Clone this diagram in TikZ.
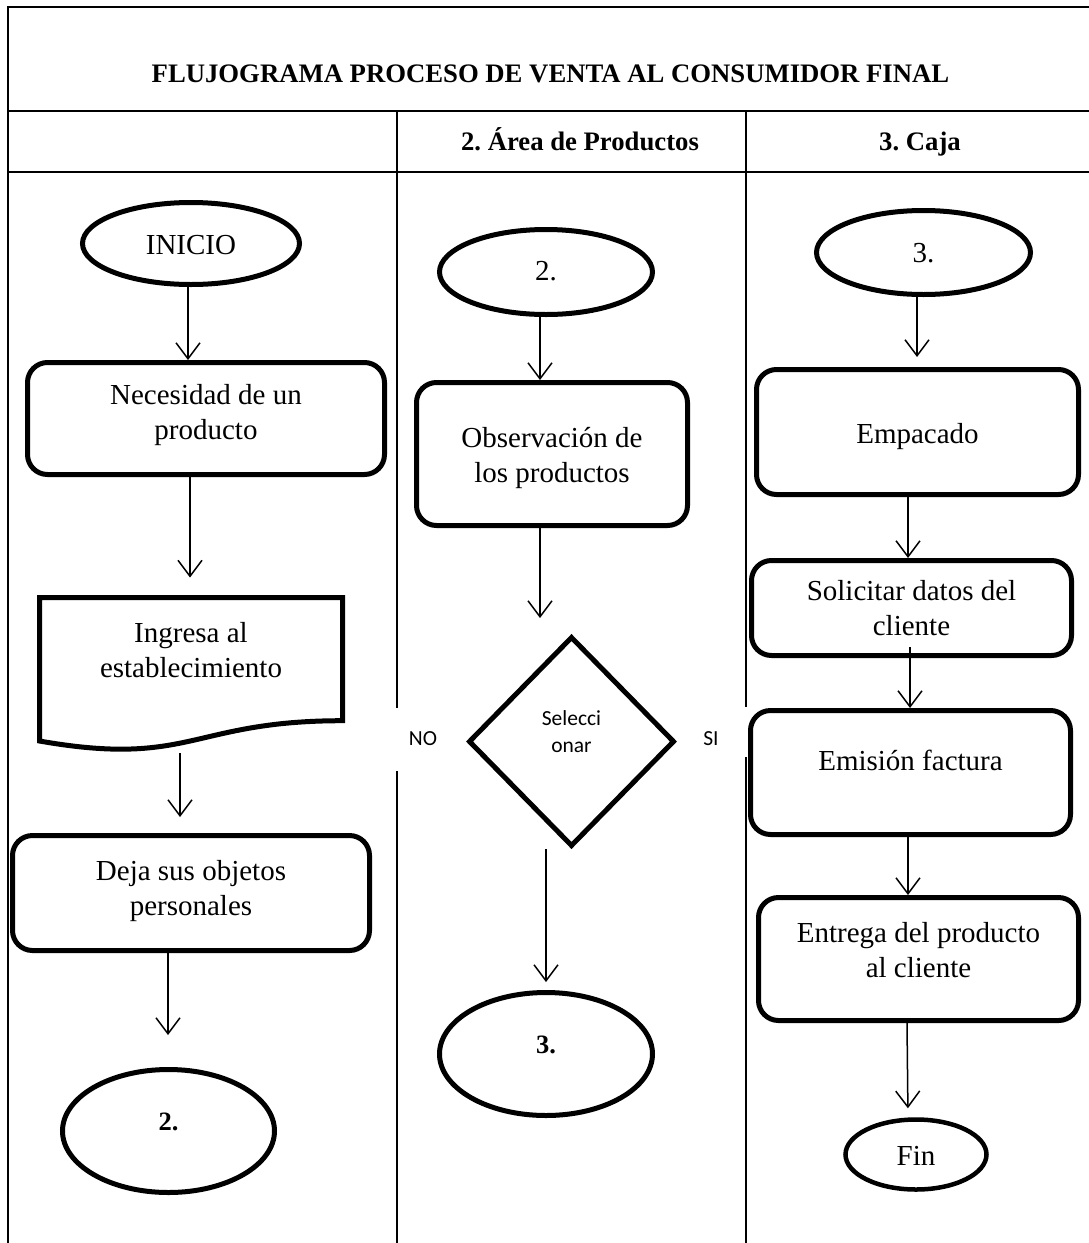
\documentclass[tikz,border=0pt]{standalone}
\usepackage{fontspec}
\setmainfont{Liberation Serif}
\newfontfamily\carlito{Carlito}
\usetikzlibrary{shapes.geometric,arrows.meta,calc}
\frenchspacing

\begin{document}
\begin{tikzpicture}[x=1pt,y=-1pt,
  grid/.style={line width=2.2pt},
  head/.style={font=\fontsize{26.7}{32}\selectfont\bfseries},
  body/.style={font=\fontsize{29}{35}\selectfont, align=center},
  proc/.style={body, rectangle, draw, line width=5pt, rounded corners=20pt, inner sep=0pt},
  term/.style={body, ellipse, draw, line width=5pt, inner sep=0pt},
  boldterm/.style={term, font=\fontsize{26.5}{32}\selectfont\bfseries},
  answer/.style={fill=white, inner sep=0pt, font=\carlito\fontsize{21.5}{27}\selectfont},
  flow/.style={line width=1.5pt, -{Straight Barb[length=16pt,width=24pt]}},
]
\useasboundingbox (0,0) rectangle (1089,1243);

% table frame and lanes
\draw[grid] (8,1243) -- (8,7) -- (1089,7);
\draw[grid] (8,111) -- (1089,111);
\draw[grid] (8,172) -- (1089,172);
\draw[grid] (397,111) -- (397,1243);
\draw[grid] (746,111) -- (746,1243);

% headings
\node[head, anchor=base] (title) at (550.5,82) {FLUJOGRAMA PROCESO DE VENTA AL CONSUMIDOR FINAL};
\node[head, anchor=base] (lane2) at (580,150) {2. Área de Productos};
\node[head, anchor=base] (lane3) at (920,150) {3. Caja};

% decision answers
\node[answer, minimum width=76pt, minimum height=63pt, text height=14pt, text depth=3pt] (no) at (423,739.5) {NO};
\node[answer, minimum width=74pt, minimum height=50pt, text height=26pt, text depth=0pt] (si) at (711,732) {SI};

% lane 1
\node[term, minimum width=217pt, minimum height=82pt, text height=21pt, text depth=0pt] (inicio) at (191,243.5) {INICIO};
\node[proc, minimum width=357pt, minimum height=112pt, text height=55pt, text depth=14pt] (need) at (206,418.5) {Necesidad de un\\producto};
\draw[line width=5pt] (39.5,597.5) -- (342.5,597.5) -- (342.5,720.7)
  .. controls (191,720.7) and (191,767.6) .. (39.5,741) -- cycle;
\node[body] (enter) at (191,650) {Ingresa al\\establecimiento};
\coordinate (doctop) at (190,597.5);
\coordinate (docfoot) at (180,753);
\node[proc, minimum width=357pt, minimum height=115pt, text height=55pt, text depth=11pt] (leave) at (191,893) {Deja sus objetos\\personales};
\node[boldterm, minimum width=212pt, minimum height=123pt, text height=18pt, text depth=20pt] (goto2) at (168.5,1131) {2.};

% lane 2
\node[term, minimum width=213pt, minimum height=85pt, text height=16pt, text depth=0pt] (from2) at (546,272) {2.};
\node[proc, minimum width=271pt, minimum height=143pt, text height=56pt, text depth=0pt] (look) at (552,454) {Observación de\\los productos};
\node[diamond, draw, line width=5pt, inner sep=0pt, minimum width=206pt, minimum height=210pt,
  font=\carlito\fontsize{21.5}{27}\selectfont, align=center, text height=42pt, text depth=21pt] (pick) at (571.5,741.5) {Selecci\\onar};
\node[boldterm, minimum width=213pt, minimum height=123pt, text height=18pt, text depth=20pt] (goto3) at (546,1054) {3.};

% lane 3
\node[term, minimum width=214pt, minimum height=84pt, text height=19pt, text depth=0pt] (from3) at (923.5,252.5) {3.};
\node[proc, minimum width=322pt, minimum height=125pt, text height=22pt, text depth=0pt] (pack) at (917.5,432) {Empacado};
\node[proc, minimum width=320pt, minimum height=95pt, text height=55pt, text depth=1pt] (data) at (911.5,608) {Solicitar datos del\\cliente};
\node[proc, minimum width=320pt, minimum height=124pt, text height=20pt, text depth=25pt] (bill) at (910.5,772.5) {Emisión factura};
\node[proc, minimum width=320pt, minimum height=123pt, text height=55pt, text depth=19pt] (deliver) at (918.5,959) {Entrega del producto\\al cliente};
\node[term, line width=4.5pt, minimum width=141pt, minimum height=70pt, text height=21pt, text depth=0pt] (fin) at (916,1154.5) {Fin};

% connector columns
\coordinate (c168) at (168,0);
\coordinate (c188) at (188,0);
\coordinate (c540) at (540,0);
\coordinate (c546) at (546,0);
\coordinate (c907) at (907,0);
\coordinate (c908) at (908,0);
\coordinate (c910) at (910,0);
\coordinate (c917) at (917,0);

% connectors
\draw[flow] (inicio.south -| c188) -- (need.north -| c188);
\draw[flow, shorten >=20pt] (need.south -| doctop) -- (doctop);
\draw[flow, shorten >=16pt] (docfoot) -- (docfoot |- leave.north);
\draw[flow, shorten >=32pt] (leave.south -| c168) -- (goto2.north -| c168);
\draw[flow] (from2.south -| c540) -- (look.north -| c540);
\draw[flow, shorten >=16pt] (look.south -| c540) -- (pick.north -| c540);
\draw[flow, shorten >=8pt] (pick.south -| c546) -- (goto3.north -| c546);
\draw[flow, shorten >=10pt] (from3.south -| c917) -- (pack.north -| c917);
\draw[flow] (pack.south -| c908) -- (data.north -| c908);
\draw[flow] ($(data.south -| c910)+(0,-11)$) -- (bill.north -| c910);
\draw[flow] (bill.south -| c908) -- (deliver.north -| c908);
\draw[flow, shorten >=9pt] (deliver.south -| c907) -- (fin.north -| c908);
\end{tikzpicture}
\end{document}
